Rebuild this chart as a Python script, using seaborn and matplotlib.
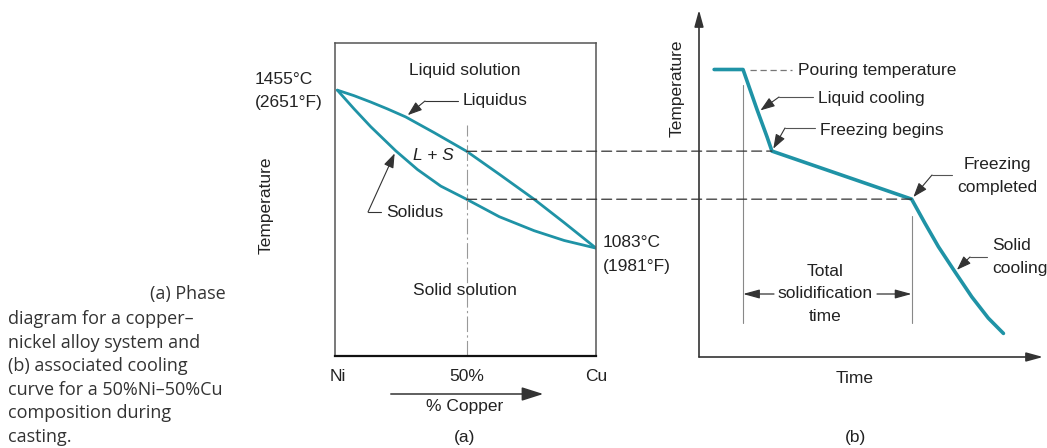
import matplotlib
matplotlib.use("Agg")

import matplotlib.pyplot as plt
import seaborn as sns
from matplotlib.lines import Line2D
from matplotlib.patches import ConnectionPatch, FancyArrowPatch

# ---- data ----
T_NI = 1455          # melting point of Ni (deg C)
T_CU = 1083          # melting point of Cu (deg C)
T_FREEZE_START = 1311
T_FREEZE_END = 1198
T_POUR = 1503

liquidus_cu = [0, 6.45, 12.9, 19.3, 26.4, 37.4, 50, 62.6, 76.1, 87.7, 100]
liquidus_temp = [T_NI, 1442, 1427, 1411, 1392, 1355, T_FREEZE_START,
                 1257, T_FREEZE_END, 1143, T_CU]

solidus_cu = [0, 6.45, 12.9, 22.6, 31.0, 40.0, 50, 62.6, 76.1, 87.7, 100]
solidus_temp = [T_NI, 1411, 1369, 1312, 1268, 1229, T_FREEZE_END,
                1157, 1124, 1101, T_CU]

cooling_time = [4.4, 12.8, 16.9, 19.8, 21.2, 61.8, 65.7, 69.6, 74.4,
                79.3, 84.1, 88.5]
cooling_temp = [T_POUR, T_POUR, 1408, 1344, T_FREEZE_START, T_FREEZE_END,
                1141, 1086, 1027, 968, 918, 882]

comp_ticks = [0, 50, 100]
comp_labels = ["Ni", "50%", "Cu"]

caption_lines = [
    "diagram for a copper\u2013",
    "nickel alloy system and",
    "(b) associated cooling",
    "curve for a 50%Ni\u201350%Cu",
    "composition during",
    "casting.",
]

# ---- style ----
W, H = 1047, 448
TEAL = "#1f93a6"
INK = "#222222"
FS = 12.5

sns.set_theme(style="white")
plt.rcParams["font.family"] = ["Liberation Sans", "DejaVu Sans"]
plt.rcParams["font.size"] = FS


def px(x, y):
    return (x / W, 1 - y / H)


def ftext(x, y, s, **kw):
    kw.setdefault("ha", "center")
    kw.setdefault("va", "center")
    kw.setdefault("color", INK)
    fig.text(*px(x, y), s, **kw)


def fline(pts, **kw):
    xs = [p[0] / W for p in pts]
    ys = [1 - p[1] / H for p in pts]
    fig.add_artist(Line2D(xs, ys, transform=fig.transFigure, **kw))


fig = plt.figure(figsize=(W / 100, H / 100), dpi=100)

# ---- panel (a): phase diagram ----
ax_a = fig.add_axes([335 / W, (H - 356) / H, (596 - 335) / W, (356 - 43) / H])
sns.lineplot(x=liquidus_cu, y=liquidus_temp, ax=ax_a, color=TEAL,
             linewidth=2.0, sort=False)
sns.lineplot(x=solidus_cu, y=solidus_temp, ax=ax_a, color=TEAL,
             linewidth=2.0, sort=False)
ax_a.set_xlim(-0.9, 100)
ax_a.set_ylim(829, 1566)
ax_a.set_xticks(comp_ticks)
ax_a.set_xticklabels(comp_labels, fontsize=FS, color=INK)
ax_a.tick_params(axis="x", length=0, pad=9)
ax_a.set_yticks([])
ax_a.set_xlabel("")
ax_a.set_ylabel("")
for side, sp in ax_a.spines.items():
    sp.set_color("#555555")
    sp.set_linewidth(1.1)
ax_a.spines["bottom"].set_color("#111111")
ax_a.spines["bottom"].set_linewidth(1.6)
ax_a.axvline(50, ymin=0, ymax=(356 - 125) / 313, color="#999999",
             linewidth=0.8, linestyle=(0, (14, 3, 2, 3)))

# ---- panel (b): cooling curve ----
ax_b = fig.add_axes([699 / W, (H - 357) / H, (1043 - 699) / W, (357 - 10) / H])
sns.lineplot(x=cooling_time, y=cooling_temp, ax=ax_b, color=TEAL,
             linewidth=2.6, sort=False)
ax_b.set_xlim(0, 100)
ax_b.set_ylim(826.5, 1643)
ax_b.set_xticks([])
ax_b.set_yticks([])
ax_b.set_xlabel("")
ax_b.set_ylabel("")
for sp in ax_b.spines.values():
    sp.set_visible(False)
ax_b.patch.set_alpha(0)
AXIS_ARROW = dict(arrowstyle="-|>,head_length=0.8,head_width=0.22",
                  color="#333333", lw=1.2, shrinkA=0, shrinkB=0)
ax_b.annotate("", xy=(0, 1), xytext=(0, 0), xycoords="axes fraction",
              arrowprops=AXIS_ARROW)
ax_b.annotate("", xy=(1, 0), xytext=(0, 0), xycoords="axes fraction",
              arrowprops=AXIS_ARROW)
ax_b.axvline(cooling_time[1], ymin=(357 - 323) / 347, ymax=(357 - 85) / 347,
             color="#888888", linewidth=0.8)
ax_b.axvline(cooling_time[5], ymin=(357 - 323) / 347, ymax=(357 - 216) / 347,
             color="#888888", linewidth=0.8)

# dashed links between the two panels
for T, t in [(T_FREEZE_START, cooling_time[4]), (T_FREEZE_END, cooling_time[5])]:
    con = ConnectionPatch(xyA=(50, T), coordsA=ax_a.transData,
                          xyB=(t, T), coordsB=ax_b.transData,
                          color="#333333", linewidth=0.9,
                          linestyle=(0, (8, 4)))
    fig.add_artist(con)

# ---- panel (a) labels ----
ftext(465, 70, "Liquid solution")
ftext(465, 290, "Solid solution")
ftext(255, 80, "1455\u00b0C", ha="left")
ftext(255, 102, "(2651\u00b0F)", ha="left")
ftext(603, 242, "1083\u00b0C", ha="left")
ftext(603, 266, "(1981\u00b0F)", ha="left")
ftext(266, 205, "Temperature", rotation=90)
ftext(433, 156, "L + S", style="italic")
ftext(465, 406, "% Copper")
ftext(465, 437, "(a)")
fig.add_artist(FancyArrowPatch(
    px(388, 394), px(546, 394), transform=fig.transFigure,
    arrowstyle="-|>,head_length=1.1,head_width=0.35", color="#333333",
    lw=1.1, mutation_scale=12))

ARROW = dict(arrowstyle="-|>,head_length=0.7,head_width=0.25",
             color="#333333", lw=0.8, shrinkA=0, shrinkB=2)

# Liquidus leader
ftext(463, 101, "Liquidus", ha="left")
fline([(458, 101), (425, 101)], color="#333333", lw=0.8)
ax_a.annotate("", xy=(liquidus_cu[4], liquidus_temp[4]),
              xytext=px(425, 101), textcoords="figure fraction",
              arrowprops=ARROW)

# Solidus leader
ftext(386, 212, "Solidus", ha="left")
fline([(381, 212), (368, 212)], color="#333333", lw=0.8)
ax_a.annotate("", xy=(solidus_cu[3], solidus_temp[3]),
              xytext=px(368, 212), textcoords="figure fraction",
              arrowprops=ARROW)

# ---- panel (b) labels ----
ftext(677, 88, "Temperature", rotation=90)
ftext(855, 378, "Time")
ftext(855, 437, "(b)")

ftext(798, 70, "Pouring temperature", ha="left")
fline([(750, 70), (792, 70)], color="#777777", lw=0.9, linestyle=(0, (5, 3)))

ftext(818, 98, "Liquid cooling", ha="left")
fline([(813, 97), (779, 97)], color="#555555", lw=0.8)
ax_b.annotate("", xy=(cooling_time[2] + 0.3, cooling_temp[2] - 5),
              xytext=px(779, 97), textcoords="figure fraction",
              arrowprops=ARROW)

ftext(820, 130, "Freezing begins", ha="left")
fline([(815, 128), (785, 128)], color="#555555", lw=0.8)
ax_b.annotate("", xy=(cooling_time[4], cooling_temp[4]),
              xytext=px(785, 128), textcoords="figure fraction",
              arrowprops=ARROW)

ftext(997, 164, "Freezing", ha="center")
ftext(997, 187, "completed", ha="center")
fline([(952, 175), (932, 175)], color="#555555", lw=0.8)
ax_b.annotate("", xy=(cooling_time[5], cooling_temp[5]),
              xytext=px(932, 175), textcoords="figure fraction",
              arrowprops=ARROW)

ftext(992, 245, "Solid", ha="left")
ftext(992, 268, "cooling", ha="left")
fline([(987, 257), (970, 257)], color="#555555", lw=0.8)
ax_b.annotate("", xy=(cooling_time[8], cooling_temp[8]),
              xytext=px(970, 257), textcoords="figure fraction",
              arrowprops=ARROW)

ftext(825, 272, "Total")
ftext(825, 294, "solidification")
ftext(825, 316, "time")
for x_text, t in [(774, cooling_time[1]), (877, cooling_time[5])]:
    ax_b.annotate("", xy=(t, 1 - 294 / H), xytext=(x_text / W, 1 - 294 / H),
                  xycoords=("data", "figure fraction"),
                  textcoords="figure fraction",
                  arrowprops=dict(arrowstyle="-|>,head_length=0.8,head_width=0.22",
                                  color="#333333", lw=0.9,
                                  shrinkA=0, shrinkB=0))

# ---- caption ----
cap = dict(va="center", color="#333333", fontsize=13,
           family=["Open Sans", "DejaVu Sans"])
ftext(226, 294, "(a) Phase", ha="right", **cap)
for i, line in enumerate(caption_lines):
    ftext(8, 319 + i * 23.6, line, ha="left", **cap)

fig.savefig("out.png", dpi=100)
